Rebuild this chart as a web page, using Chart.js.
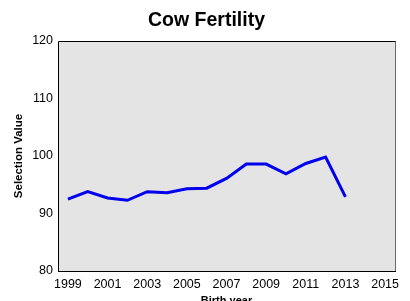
<!DOCTYPE html>
<html>
<head>
<meta charset="utf-8">
<script src="https://cdn.jsdelivr.net/npm/chart.js@4/dist/chart.umd.min.js"></script>
<style>
html,body{margin:0;padding:0;background:#fff;}
#wrap{width:410px;height:301px;}
</style>
</head>
<body>
<div id="wrap"><canvas id="c" width="410" height="301"></canvas></div>
<script>
const years = [1999,2000,2001,2002,2003,2004,2005,2006,2007,2008,2009,2010,2011,2012,2013];
const selectionValues = [92.5,93.8,92.7,92.3,93.8,93.6,94.3,94.4,96.1,98.6,98.6,96.9,98.7,99.8,92.9];
const xTickLabels = [1999,2001,2003,2005,2007,2009,2011,2013,2015];
const yTickLabels = [80,90,100,110,120];

const plotBg = {
  id:'plotBg',
  beforeDraw(chart){
    const {ctx, chartArea:a} = chart;
    ctx.save();
    ctx.fillStyle = '#e4e4e4';
    ctx.fillRect(a.left, a.top, a.right-a.left, a.bottom-a.top);
    ctx.restore();
  },
  afterDraw(chart){
    const {ctx, chartArea:a} = chart;
    ctx.save();
    ctx.lineWidth = 1;
    ctx.strokeStyle = '#6a6a6a';
    ctx.beginPath();
    ctx.moveTo(a.right+0.5, a.top); ctx.lineTo(a.right+0.5, a.bottom);
    ctx.stroke();
    ctx.strokeStyle = '#000';
    ctx.beginPath();
    ctx.moveTo(a.left+0.5, a.bottom+0.5);
    ctx.lineTo(a.left+0.5, a.top+0.5);
    ctx.lineTo(a.right+0.5, a.top+0.5);
    ctx.moveTo(a.left, a.bottom+0.5);
    ctx.lineTo(a.right+1, a.bottom+0.5);
    ctx.stroke();
    ctx.restore();
  }
};

new Chart(document.getElementById('c'), {
  type:'line',
  data:{
    datasets:[{
      data: years.map((y,i)=>({x:y, y:selectionValues[i]})),
      borderColor:'#0000ee',
      borderWidth:3,
      pointRadius:0,
      tension:0,
      fill:false
    }]
  },
  options:{
    responsive:false,
    animation:false,
    devicePixelRatio:1,
    layout:{padding:{left:18,right:15,top:0,bottom:0}},
    plugins:{
      legend:{display:false},
      tooltip:{enabled:false},
      title:{
        display:true,
        text:'Cow Fertility',
        color:'#000',
        font:{family:'Liberation Sans, Arial, sans-serif', size:19.5, weight:'bold'},
        padding:{top:9,bottom:8.6}
      }
    },
    scales:{
      x:{
        type:'linear',
        min:1998.5,
        max:2015.5,
        afterBuildTicks(s){ s.ticks = xTickLabels.map(v=>({value:v})); },
        afterFit(s){ s.height = 30; },
        grid:{display:false, drawTicks:false},
        border:{display:false},
        ticks:{
          color:'#000',
          padding:6,
          maxRotation:0,
          autoSkip:false,
          font:{family:'Liberation Sans, Arial, sans-serif', size:12.5},
          callback:(v)=>String(v)
        },
        title:{
          display:true,
          text:'Birth year',
          color:'#000',
          font:{family:'Liberation Sans, Arial, sans-serif', size:11, weight:'bold'},
          padding:{top:0,bottom:-7}
        }
      },
      y:{
        type:'linear',
        min:80,
        max:120,
        afterBuildTicks(s){ s.ticks = yTickLabels.map(v=>({value:v})); },
        afterFit(s){ s.width = 40; },
        grid:{display:false, drawTicks:false},
        border:{display:false},
        ticks:{
          color:'#000',
          padding:5,
          font:{family:'Liberation Sans, Arial, sans-serif', size:12.5}
        },
        title:{
          display:true,
          text:'Selection Value',
          color:'#000',
          font:{family:'Liberation Sans, Arial, sans-serif', size:11.5, weight:'bold'},
          padding:{top:-6.4,bottom:0}
        }
      }
    }
  },
  plugins:[plotBg]
});
</script>
</body>
</html>
